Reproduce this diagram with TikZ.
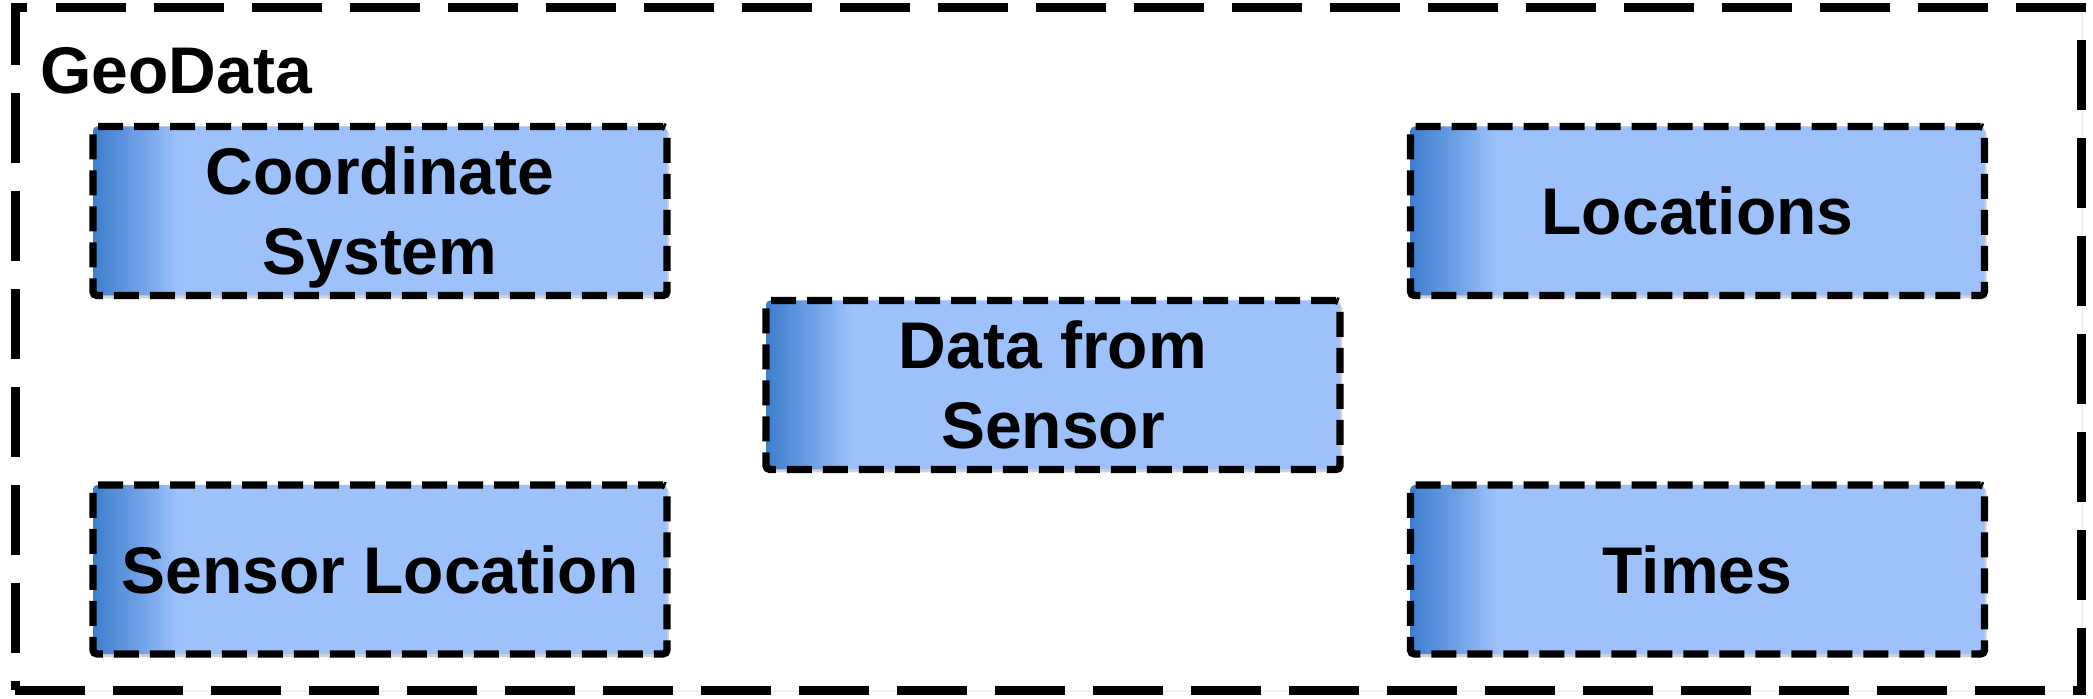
\documentclass[tikz,border=0pt]{standalone}
\usepackage{fontspec}
\setmainfont{Liberation Sans}
\usetikzlibrary{shadows}
\definecolor{boxlight}{RGB}{156,193,251}
\definecolor{boxmid}{RGB}{110,160,230}
\definecolor{boxdark}{RGB}{62,126,207}
\pgfdeclarehorizontalshading{boxshade}{100bp}{color(0bp)=(boxdark); color(25bp)=(boxdark); color(29bp)=(boxmid); color(32.4bp)=(boxlight); color(100bp)=(boxlight)}
\tikzset{
  outerbox/.style={draw=black, fill=white, line width=4.5pt, dash pattern=on 35pt off 14pt,
    minimum width=1033pt, minimum height=341.25pt, inner sep=0pt,
    drop shadow={opacity=0.12, shadow xshift=0.8pt, shadow yshift=-0.8pt}},
  itembox/.style={draw=black, line width=3.7pt, dash pattern=on 12.5pt off 5.5pt,
    rounded corners=2pt, shading=boxshade,
    minimum width=287pt, minimum height=84.5pt, inner sep=0pt, align=center,
    text depth=0pt,
    font=\fontsize{33}{40}\selectfont\bfseries,
    drop shadow={opacity=0.35, shadow xshift=1pt, shadow yshift=-1.5pt}},
  titletext/.style={font=\fontsize{33}{40}\selectfont\bfseries, inner sep=0pt}
}
\begin{document}
\begin{tikzpicture}[x=0.5pt, y=-0.5pt]
\useasboundingbox (0,0) rectangle (2093,699);
\node[outerbox] (geodata) at (1048,348.75) {};
\node[titletext, anchor=base west] (title) at (40,94) {GeoData};
\node[itembox] (cs) at (380,211) {Coordinate\\System};
\node[itembox] (loc) at (1697.5,211) {Locations};
\node[itembox] (dfs) at (1053,385) {Data from\\Sensor};
\node[itembox] (sl) at (380,569.5) {Sensor Location};
\node[itembox] (times) at (1697.5,569.5) {Times};
\end{tikzpicture}
\end{document}
